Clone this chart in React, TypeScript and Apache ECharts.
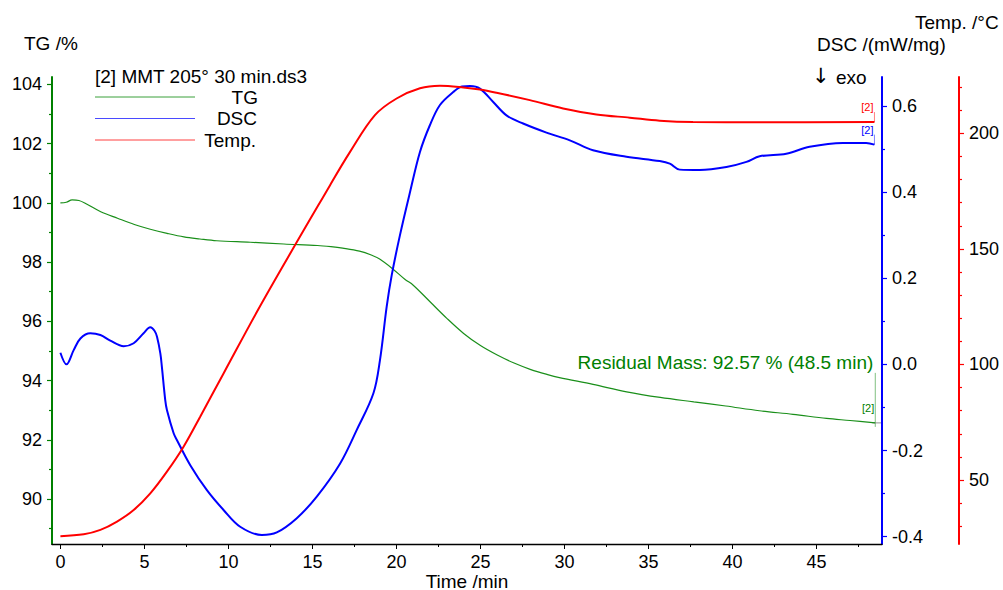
import { useEffect, useRef } from "react";
import * as echarts from "echarts";

// ---- Data ----
const tgTime = [0, 0.35, 0.7, 1.1, 1.5, 2.4, 3.4, 4.4, 5.35, 6.35, 7.35, 8.3, 9.3, 11.3, 13.3, 15.3, 16.1, 16.8, 17.8, 18.5, 19.0, 19.8, 20.5, 21.0, 22.0, 23.0, 24.0, 25, 26, 27, 28, 29, 29.7, 31.7, 33.7, 35.7, 37.7, 39.6, 41.6, 43.6, 45.6, 47, 48.5];
const tgValues = [100.0, 100.02, 100.1, 100.08, 99.98, 99.7, 99.48, 99.27, 99.11, 98.97, 98.85, 98.78, 98.72, 98.67, 98.61, 98.56, 98.52, 98.47, 98.37, 98.24, 98.1, 97.76, 97.42, 97.22, 96.66, 96.1, 95.59, 95.18, 94.86, 94.59, 94.37, 94.2, 94.1, 93.87, 93.62, 93.43, 93.28, 93.14, 92.98, 92.86, 92.72, 92.65, 92.57];

const dscTime = [0, 0.36, 0.79, 1.19, 1.78, 2.38, 2.97, 3.77, 4.36, 4.95, 5.35, 5.6, 5.75, 5.95, 6.04, 6.24, 6.34, 6.74, 6.94, 7.73, 8.72, 9.71, 10.7, 11.99, 12.88, 14.07, 15.26, 16.65, 17.64, 18.63, 19.02, 19.42, 19.72, 20.21, 20.81, 21.4, 21.99, 22.59, 23.38, 23.9, 24.38, 24.97, 25.76, 26.55, 27.54, 28.93, 30.32, 31.7, 33.69, 35.67, 36.27, 36.86, 38.05, 39.64, 40.83, 41.62, 43.2, 44.59, 46.57, 47.96, 48.45];
const dscValues = [0.027, 0.0, 0.033, 0.06, 0.072, 0.068, 0.055, 0.042, 0.049, 0.072, 0.086, 0.078, 0.064, 0.025, -0.006, -0.083, -0.106, -0.16, -0.176, -0.234, -0.292, -0.338, -0.377, -0.396, -0.39, -0.357, -0.307, -0.23, -0.152, -0.067, 0.01, 0.134, 0.207, 0.3, 0.4, 0.493, 0.555, 0.602, 0.632, 0.645, 0.646, 0.64, 0.609, 0.578, 0.559, 0.538, 0.52, 0.497, 0.482, 0.472, 0.466, 0.452, 0.451, 0.458, 0.47, 0.483, 0.489, 0.505, 0.514, 0.514, 0.51];

const tempTime = [0, 1.39, 2.38, 3.37, 4.36, 5.35, 6.34, 7.33, 8.32, 9.71, 12.09, 16.05, 17.24, 18.72, 20.01, 21.4, 22.59, 23.98, 24.97, 25.96, 27.94, 29.92, 31.9, 33.89, 35.67, 37.65, 41.62, 48.45];
const tempValues = [25.7, 26.5, 28.4, 32.0, 37.0, 44.2, 53.6, 64.4, 77.4, 96.1, 127.9, 177.6, 192.0, 207.9, 215.1, 219.5, 220.6, 219.9, 219.0, 217.6, 214.4, 210.8, 208.2, 206.8, 205.5, 204.9, 204.8, 204.9];

const timeTicks = [0, 5, 10, 15, 20, 25, 30, 35, 40, 45];
const timeMinorTicks = [2.5, 7.5, 12.5, 17.5, 22.5, 27.5, 32.5, 37.5, 42.5, 47.5];
const tgTicks = [90, 92, 94, 96, 98, 100, 102, 104];
const tgMinorTicks = [89, 91, 93, 95, 97, 99, 101, 103];
const dscTicks = [-0.4, -0.2, 0, 0.2, 0.4, 0.6];
const dscMinorTicks = [-0.3, -0.1, 0.1, 0.3, 0.5];
const tempTicks = [50, 100, 150, 200];
const tempMinorTicks = [30, 40, 60, 70, 80, 90, 110, 120, 130, 140, 160, 170, 180, 190, 210, 220];

const residualLabel = "Residual Mass: 92.57 % (48.5 min)";
const fileLabel = "[2] MMT 205° 30 min.ds3";

const FONT = "'Liberation Sans', Arial, Helvetica, sans-serif";
const GREEN = "#1a8f1a";
const GREEN_AXIS = "#008000";
const BLUE = "#0000ff";
const RED = "#ff0000";

const zip = (a: number[], b: number[]) => a.map((v, i) => [v, b[i]]);

function majorAxis(pos: "left" | "right", min: number, max: number, ticks: number[], color: string, offset: number, fmt?: (v: number) => string) {
  return {
    type: "value",
    position: pos,
    offset,
    min,
    max,
    axisLine: { show: true, onZero: false, lineStyle: { color, width: 2 } },
    axisTick: { show: true, customValues: ticks, length: 5, lineStyle: { color, width: 1.2 } },
    axisLabel: {
      show: true,
      customValues: ticks,
      color: "#000",
      fontSize: 18,
      fontFamily: FONT,
      margin: 10,
      formatter: fmt,
    },
    splitLine: { show: false },
  };
}
function minorAxis(pos: "left" | "right", min: number, max: number, ticks: number[], color: string, offset: number) {
  return {
    type: "value",
    position: pos,
    offset,
    min,
    max,
    axisLine: { show: false, onZero: false },
    axisTick: { show: true, customValues: ticks, length: 3, lineStyle: { color, width: 1.2 } },
    axisLabel: { show: false },
    splitLine: { show: false },
  };
}

export default function App() {
  const ref = useRef<HTMLDivElement>(null);
  useEffect(() => {
    if (!ref.current) return;
    const chart = echarts.init(ref.current, undefined, { renderer: "svg" });
    const lineSeries = (name: string, yIdx: number, data: number[][], color: string, width: number) => ({
      name,
      type: "line",
      xAxisIndex: 0,
      yAxisIndex: yIdx,
      data,
      showSymbol: false,
      symbol: "none",
      smooth: 0.35,
      lineStyle: { color, width },
    });
    const option: any = {
      animation: false,
      backgroundColor: "#ffffff",
      grid: { left: 52, right: 121, top: 77, bottom: 46, containLabel: false },
      xAxis: [
        {
          type: "value",
          min: -0.5,
          max: 48.9,
          position: "bottom",
          axisLine: { show: true, onZero: false, lineStyle: { color: "#000", width: 1.3 } },
          axisTick: { show: true, customValues: timeTicks, length: 5, lineStyle: { color: "#000" } },
          axisLabel: { customValues: timeTicks, color: "#000", fontSize: 18, fontFamily: FONT, margin: 9 },
          splitLine: { show: false },
        },
        {
          type: "value",
          min: -0.5,
          max: 48.9,
          position: "bottom",
          axisLine: { show: false, onZero: false },
          axisTick: { show: true, customValues: timeMinorTicks, length: 3, lineStyle: { color: "#000" } },
          axisLabel: { show: false },
          splitLine: { show: false },
        },
      ],
      yAxis: [
        majorAxis("left", 88.48, 104.25, tgTicks, GREEN_AXIS, 0),
        minorAxis("left", 88.48, 104.25, tgMinorTicks, GREEN_AXIS, 0),
        majorAxis("right", -0.417, 0.667, dscTicks, BLUE, 0, (v: number) => v.toFixed(1)),
        minorAxis("right", -0.417, 0.667, dscMinorTicks, BLUE, 0),
        majorAxis("right", 22.3, 224.4, tempTicks, RED, 77),
        minorAxis("right", 22.3, 224.4, tempMinorTicks, RED, 77),
      ],
      series: [
        lineSeries("TG", 0, zip(tgTime, tgValues), GREEN, 1.2),
        lineSeries("DSC", 2, zip(dscTime, dscValues), BLUE, 2),
        lineSeries("Temp.", 4, zip(tempTime, tempValues), RED, 2),
      ],
    };
    chart.setOption(option);

    const last = (a: number[]) => a[a.length - 1];
    const pTG = chart.convertToPixel({ xAxisIndex: 0, yAxisIndex: 0 } as any, [last(tgTime), last(tgValues)]) as number[];
    const pDSC = chart.convertToPixel({ xAxisIndex: 0, yAxisIndex: 2 } as any, [last(dscTime), last(dscValues)]) as number[];
    const pTemp = chart.convertToPixel({ xAxisIndex: 0, yAxisIndex: 4 } as any, [last(tempTime), last(tempValues)]) as number[];

    const txt = (x: number, y: number, text: string, size: number, fill: string, align: string = "left", family: string = FONT) => ({
      type: "text",
      x,
      y,
      style: { text, fontSize: size, fontFamily: family, fill, align, verticalAlign: "middle" },
    });
    const seg = (x1: number, y1: number, x2: number, y2: number, stroke: string, w = 1) => ({
      type: "line",
      shape: { x1, y1, x2, y2 },
      style: { stroke, lineWidth: w },
    });

    const graphic: any[] = [
      txt(24, 43, "TG /%", 19, "#000"),
      txt(817, 44, "DSC /(mW/mg)", 19, "#000"),
      txt(915, 22, "Temp. /°C", 19, "#000"),
      txt(812, 76, "↓", 21, "#000", "left", "'DejaVu Sans', sans-serif"),
      txt(836, 77, "exo", 19, "#000"),
      txt(467, 581, "Time /min", 19, "#000", "center"),
      txt(95, 76, fileLabel, 19, "#000"),
      seg(95, 97, 195, 97, "#3aa03a"),
      seg(95, 118.5, 195, 118.5, "#4a4aff"),
      seg(95, 140, 195, 140, "#ff4040"),
      txt(258, 97, "TG", 19, "#000", "right"),
      txt(257, 118.5, "DSC", 19, "#000", "right"),
      txt(256, 140, "Temp.", 19, "#000", "right"),
      // end-of-curve annotations
      seg(pTemp[0], pTemp[1] - 10, pTemp[0], pTemp[1], "#ff8080"),
      txt(pTemp[0] - 1, pTemp[1] - 15, "[2]", 11, RED, "right"),
      seg(pDSC[0], pDSC[1] - 10, pDSC[0], pDSC[1], "#8080ff"),
      txt(pDSC[0] - 1, pDSC[1] - 15, "[2]", 11, BLUE, "right"),
      seg(pTG[0], pTG[1] - 50, pTG[0], pTG[1] + 4, "#80c080"),
      seg(pTG[0] - 3, pTG[1], pTG[0] + 6, pTG[1], "#909090"),
      txt(pTG[0] - 1, pTG[1] - 15, "[2]", 11, GREEN_AXIS, "right"),
      txt(pTG[0] - 2, pTG[1] - 60, residualLabel, 19, GREEN_AXIS, "right"),
    ];
    chart.setOption({ graphic });

    return () => chart.dispose();
  }, []);
  return (
    <div
      ref={ref}
      style={{ position: "fixed", left: 0, top: 0, width: 1003, height: 590, background: "#fff" }}
    />
  );
}
